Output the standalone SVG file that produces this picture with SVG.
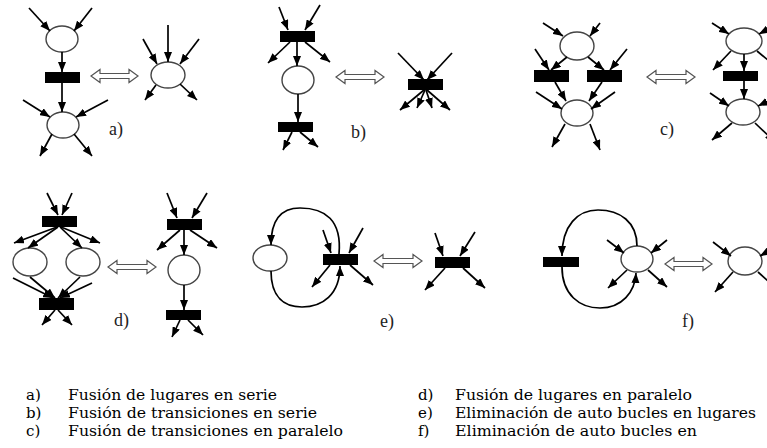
<svg xmlns="http://www.w3.org/2000/svg" width="767" height="448" viewBox="0 0 767 448">
<style>
.p{fill:#fff;stroke:#444;stroke-width:1.4}
.t{fill:#000}
.e{fill:none;stroke:#000;stroke-width:1.7;marker-end:url(#ah)}
.da{fill:#fff;stroke:#555;stroke-width:1.2}
.lb{font-family:"Liberation Serif","Times New Roman",serif;font-size:18px;fill:#222}
.lg{font-family:"DejaVu Serif","Liberation Serif",serif;font-size:15px;fill:#000}
</style>
<defs>
<marker id="ah" viewBox="0 0 10 8" markerWidth="10" markerHeight="8" refX="10" refY="4" orient="auto" markerUnits="userSpaceOnUse"><path d="M0,0 L10,4 L0,8 z" fill="#000"/></marker>
</defs>
<rect width="767" height="448" fill="#fff"/>

<!-- panel a -->
<g id="a-p1"><ellipse class="p" cx="62" cy="39" rx="16" ry="13"/></g>
<g id="a-t1"><rect class="t" x="45" y="72" width="35" height="11"/></g>
<g id="a-p2"><ellipse class="p" cx="63" cy="125" rx="16" ry="13"/></g>
<g id="a-p3"><ellipse class="p" cx="168" cy="75" rx="17" ry="13"/></g>
<g id="a-eq"><polygon class="da" points="91,76 100,69.5 100,73.5 129,73.5 129,69.5 138,76 129,82.5 129,78.5 100,78.5 100,82.5"/></g>
<g id="a-label"><text class="lb" x="109" y="135">a)</text></g>

<!-- panel b -->
<g id="b-t1"><rect class="t" x="280" y="31" width="35" height="11"/></g>
<g id="b-p1"><ellipse class="p" cx="298" cy="80" rx="16" ry="14"/></g>
<g id="b-t2"><rect class="t" x="278" y="122" width="35" height="10"/></g>
<g id="b-t3"><rect class="t" x="408" y="79" width="35" height="11"/></g>
<g id="b-eq"><polygon class="da" points="336,77 345,70.5 345,74.5 375,74.5 375,70.5 384,77 375,83.5 375,79.5 345,79.5 345,83.5"/></g>
<g id="b-label"><text class="lb" x="351" y="138">b)</text></g>

<!-- panel c -->
<g id="c-p1"><ellipse class="p" cx="577" cy="46" rx="17" ry="14"/></g>
<g id="c-t1"><rect class="t" x="534" y="70" width="35" height="12"/></g>
<g id="c-t2"><rect class="t" x="587" y="70" width="35" height="12"/></g>
<g id="c-p2"><ellipse class="p" cx="577" cy="113" rx="16" ry="13"/></g>
<g id="c-eq"><polygon class="da" points="647,77 656,70.5 656,74.5 686,74.5 686,70.5 695,77 686,83.5 686,79.5 656,79.5 656,83.5"/></g>
<g id="c-label"><text class="lb" x="660" y="135">c)</text></g>
<g id="c-p3"><ellipse class="p" cx="744" cy="41" rx="18" ry="13"/></g>
<g id="c-t3"><rect class="t" x="723" y="71" width="35" height="10"/></g>
<g id="c-p4"><ellipse class="p" cx="743" cy="112" rx="17" ry="13"/></g>

<!-- panel d -->
<g id="d-t1"><rect class="t" x="42" y="216" width="35" height="11"/></g>
<g id="d-p1"><ellipse class="p" cx="30" cy="262" rx="17" ry="14"/></g>
<g id="d-p2"><ellipse class="p" cx="83" cy="262" rx="17" ry="14"/></g>
<g id="d-t2"><rect class="t" x="39" y="298" width="35" height="12"/></g>
<g id="d-eq"><polygon class="da" points="108,267 117,260.5 117,264.5 147,264.5 147,260.5 156,267 147,273.5 147,269.5 117,269.5 117,273.5"/></g>
<g id="d-t3"><rect class="t" x="167" y="219" width="35" height="11"/></g>
<g id="d-p3"><ellipse class="p" cx="184" cy="270" rx="16" ry="15"/></g>
<g id="d-t4"><rect class="t" x="166" y="310" width="35" height="10"/></g>
<g id="d-label"><text class="lb" x="114" y="326">d)</text></g>

<!-- panel e -->
<g id="e-p1"><ellipse class="p" cx="270" cy="258" rx="17" ry="13"/></g>
<g id="e-t1"><rect class="t" x="323" y="254" width="35" height="11"/></g>
<g id="e-eq"><polygon class="da" points="374,261 383,254.5 383,258.5 413,258.5 413,254.5 422,261 413,267.5 413,263.5 383,263.5 383,267.5"/></g>
<g id="e-t2"><rect class="t" x="435" y="257" width="35" height="11"/></g>
<g id="e-label"><text class="lb" x="380" y="327">e)</text></g>

<!-- panel f -->
<g id="f-t1"><rect class="t" x="543" y="257" width="36" height="10"/></g>
<g id="f-p1"><ellipse class="p" cx="637" cy="259" rx="16" ry="13"/></g>
<g id="f-eq"><polygon class="da" points="665,264 674,257.5 674,261.5 703,261.5 703,257.5 712,264 703,270.5 703,266.5 674,266.5 674,270.5"/></g>
<g id="f-p2"><ellipse class="p" cx="745" cy="261" rx="17" ry="14"/></g>
<g id="f-label"><text class="lb" x="682" y="327">f)</text></g>

<g id="connectors">
<!-- a -->
<line class="e" x1="29" y1="8" x2="50" y2="31"/>
<line class="e" x1="92" y1="8" x2="74" y2="31"/>
<line class="e" x1="62" y1="52" x2="62" y2="72"/>
<line class="e" x1="62" y1="83" x2="62" y2="112"/>
<line class="e" x1="23" y1="100" x2="50" y2="117"/>
<line class="e" x1="108" y1="100" x2="76" y2="117"/>
<line class="e" x1="52" y1="134" x2="40" y2="156"/>
<line class="e" x1="74" y1="134" x2="92" y2="156"/>
<line class="e" x1="168" y1="25" x2="168" y2="62"/>
<line class="e" x1="143" y1="39" x2="157" y2="64"/>
<line class="e" x1="199" y1="39" x2="180" y2="64"/>
<line class="e" x1="156" y1="85" x2="145" y2="100"/>
<line class="e" x1="180" y1="84" x2="197" y2="100"/>
<!-- b -->
<line class="e" x1="279" y1="7" x2="288" y2="30"/>
<line class="e" x1="320" y1="5" x2="305" y2="30"/>
<line class="e" x1="290" y1="42" x2="268" y2="63"/>
<line class="e" x1="297" y1="42" x2="297" y2="66"/>
<line class="e" x1="305" y1="42" x2="330" y2="62"/>
<line class="e" x1="298" y1="94" x2="298" y2="122"/>
<line class="e" x1="292" y1="132" x2="283" y2="150"/>
<line class="e" x1="300" y1="132" x2="318" y2="147"/>
<line class="e" x1="398" y1="53" x2="424" y2="80"/>
<line class="e" x1="452" y1="53" x2="427" y2="80"/>
<line class="e" x1="424" y1="90" x2="400" y2="110"/>
<line class="e" x1="425" y1="90" x2="417" y2="108"/>
<line class="e" x1="426" y1="90" x2="432" y2="108"/>
<line class="e" x1="427" y1="90" x2="450" y2="110"/>
<!-- c -->
<line class="e" x1="543" y1="23" x2="563" y2="36"/>
<line class="e" x1="600" y1="23" x2="590" y2="36"/>
<line class="e" x1="567" y1="57" x2="551" y2="70"/>
<line class="e" x1="588" y1="57" x2="604" y2="70"/>
<line class="e" x1="535" y1="49" x2="549" y2="70"/>
<line class="e" x1="627" y1="49" x2="610" y2="70"/>
<line class="e" x1="555" y1="82" x2="566" y2="101"/>
<line class="e" x1="602" y1="82" x2="589" y2="101"/>
<line class="e" x1="536" y1="92" x2="562" y2="109"/>
<line class="e" x1="615" y1="92" x2="591" y2="109"/>
<line class="e" x1="565" y1="124" x2="552" y2="147"/>
<line class="e" x1="590" y1="124" x2="600" y2="150"/>
<line class="e" x1="712" y1="23" x2="729" y2="34"/>
<line class="e" x1="785" y1="20" x2="759" y2="34"/>
<line class="e" x1="731" y1="51" x2="713" y2="70"/>
<line class="e" x1="744" y1="54" x2="744" y2="71"/>
<line class="e" x1="757" y1="51" x2="780" y2="70"/>
<line class="e" x1="744" y1="81" x2="744" y2="99"/>
<line class="e" x1="710" y1="93" x2="729" y2="106"/>
<line class="e" x1="785" y1="93" x2="758" y2="106"/>
<line class="e" x1="732" y1="123" x2="712" y2="140"/>
<line class="e" x1="755" y1="123" x2="775" y2="142"/>
<!-- d -->
<line class="e" x1="47" y1="193" x2="58" y2="215"/>
<line class="e" x1="72" y1="193" x2="62" y2="215"/>
<line class="e" x1="57" y1="227" x2="14" y2="243"/>
<line class="e" x1="58" y1="227" x2="28" y2="248"/>
<line class="e" x1="60" y1="227" x2="82" y2="248"/>
<line class="e" x1="61" y1="227" x2="100" y2="243"/>
<line class="e" x1="13" y1="278" x2="53" y2="298"/>
<line class="e" x1="30" y1="277" x2="55" y2="298"/>
<line class="e" x1="80" y1="277" x2="58" y2="298"/>
<line class="e" x1="92" y1="283" x2="60" y2="298"/>
<line class="e" x1="55" y1="310" x2="42" y2="325"/>
<line class="e" x1="58" y1="310" x2="72" y2="325"/>
<line class="e" x1="167" y1="193" x2="177" y2="218"/>
<line class="e" x1="207" y1="193" x2="192" y2="218"/>
<line class="e" x1="180" y1="230" x2="157" y2="250"/>
<line class="e" x1="184" y1="230" x2="184" y2="255"/>
<line class="e" x1="190" y1="230" x2="217" y2="248"/>
<line class="e" x1="184" y1="285" x2="184" y2="310"/>
<line class="e" x1="180" y1="320" x2="172" y2="337"/>
<line class="e" x1="188" y1="320" x2="203" y2="335"/>
<!-- e -->
<path class="e" d="M339,254 C342,220 325,208 300,208 C280,208 271,222 271,245"/>
<path class="e" d="M271,271 C271,298 285,307 302,307 C322,307 340,295 340,266"/>
<line class="e" x1="323" y1="230" x2="331" y2="253"/>
<line class="e" x1="363" y1="228" x2="349" y2="253"/>
<line class="e" x1="330" y1="265" x2="312" y2="287"/>
<line class="e" x1="350" y1="265" x2="373" y2="285"/>
<line class="e" x1="435" y1="233" x2="443" y2="256"/>
<line class="e" x1="475" y1="232" x2="460" y2="256"/>
<line class="e" x1="445" y1="268" x2="425" y2="290"/>
<line class="e" x1="463" y1="268" x2="485" y2="288"/>
<!-- f -->
<path class="e" d="M637,246 C637,222 620,210 598,210 C578,210 562,225 562,256"/>
<path class="e" d="M562,267 C562,295 580,308 600,308 C622,308 635,292 636,273"/>
<line class="e" x1="607" y1="240" x2="624" y2="253"/>
<line class="e" x1="667" y1="240" x2="651" y2="253"/>
<line class="e" x1="627" y1="270" x2="608" y2="288"/>
<line class="e" x1="648" y1="270" x2="667" y2="287"/>
<line class="e" x1="713" y1="242" x2="731" y2="256"/>
<line class="e" x1="785" y1="242" x2="760" y2="256"/>
<line class="e" x1="733" y1="272" x2="715" y2="292"/>
<line class="e" x1="758" y1="272" x2="780" y2="292"/>
</g>

<g id="legend">
<text class="lg" x="26" y="400">a)</text>
<text class="lg" x="68" y="400" textLength="209" lengthAdjust="spacingAndGlyphs">Fusión de lugares en serie</text>
<text class="lg" x="26" y="418">b)</text>
<text class="lg" x="68" y="418" textLength="249" lengthAdjust="spacingAndGlyphs">Fusión de transiciones en serie</text>
<text class="lg" x="26" y="436">c)</text>
<text class="lg" x="68" y="436" textLength="275" lengthAdjust="spacingAndGlyphs">Fusión de transiciones en paralelo</text>
<text class="lg" x="418" y="400">d)</text>
<text class="lg" x="455" y="400" textLength="237" lengthAdjust="spacingAndGlyphs">Fusión de lugares en paralelo</text>
<text class="lg" x="418" y="418">e)</text>
<text class="lg" x="455" y="418" textLength="301" lengthAdjust="spacingAndGlyphs">Eliminación de auto bucles en lugares</text>
<text class="lg" x="418" y="436">f)</text>
<text class="lg" x="455" y="436" textLength="242" lengthAdjust="spacingAndGlyphs">Eliminación de auto bucles en</text>
</g>
</svg>
